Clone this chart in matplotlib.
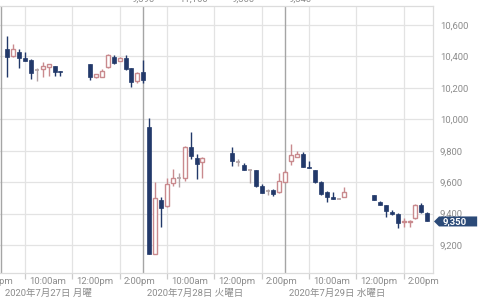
import matplotlib
matplotlib.use("Agg")
import matplotlib.pyplot as plt
import matplotlib.transforms as mtransforms
from matplotlib.patches import Polygon

plt.rcParams['font.family'] = ['Roboto', 'Noto Sans CJK JP', 'DejaVu Sans']

# 15-minute candles, three trading days (9:00-15:00)
slot_times = ["9:15", "9:30", "9:45", "10:00", "10:15", "10:30", "10:45", "11:00", "11:15", "11:30",
              "12:45", "13:00", "13:15", "13:30", "13:45", "14:00", "14:15", "14:30", "14:45", "15:00"]
day_labels = ["2020年7月27日 月曜", "2020年7月28日 火曜日", "2020年7月29日 水曜日"]

opens_d1 = [10445, 10405, 10426, 10388, 10377, 10310, 10318, 10335, 10339, 10309,
            10350, 10267, 10271, 10331, 10399, 10373, 10392, 10324, 10244, 10303]
highs_d1 = [10530, 10477, 10445, 10426, 10382, 10324, 10366, 10352, 10341, 10309,
            10352, 10290, 10320, 10416, 10409, 10395, 10407, 10328, 10303, 10377]
lows_d1 = [10271, 10399, 10328, 10371, 10256, 10244, 10271, 10277, 10277, 10277,
           10250, 10262, 10268, 10328, 10350, 10371, 10313, 10208, 10233, 10229]
closes_d1 = [10394, 10447, 10388, 10373, 10296, 10313, 10341, 10350, 10299, 10299,
             10271, 10286, 10307, 10409, 10356, 10392, 10318, 10239, 10293, 10250]

opens_d2 = [9949, 9143, 9486, 9448, 9593, 9624, 9624, 9825, 9755, 9730,
            9787, 9727, 9709, 9677, 9677, 9575, 9543, 9550, 9537, 9603]
highs_d2 = [10006, 9603, 9507, 9624, 9682, 9656, 9830, 9921, 9777, 9757,
            9825, 9746, 9724, 9683, 9680, 9586, 9555, 9555, 9658, 9680]
lows_d2 = [9140, 9140, 9317, 9444, 9576, 9571, 9609, 9745, 9618, 9624,
           9703, 9703, 9677, 9593, 9570, 9528, 9519, 9514, 9533, 9598]
closes_d2 = [9143, 9497, 9434, 9588, 9624, 9627, 9825, 9766, 9716, 9755,
             9736, 9729, 9677, 9680, 9575, 9533, 9546, 9525, 9610, 9667]

opens_d3 = [9737, 9762, 9779, 9698, 9677, 9603, 9535, 9504, 9497, 9508,
            9518, 9475, 9455, 9411, 9395, 9344, 9344, 9370, 9455, 9405]
highs_d3 = [9843, 9800, 9794, 9737, 9680, 9606, 9546, 9539, 9499, 9571,
            9520, 9477, 9457, 9422, 9405, 9370, 9360, 9462, 9466, 9411]
lows_d3 = [9709, 9758, 9694, 9688, 9593, 9520, 9476, 9490, 9490, 9505,
           9484, 9453, 9376, 9390, 9306, 9317, 9317, 9365, 9405, 9350]
closes_d3 = [9773, 9777, 9694, 9688, 9603, 9524, 9504, 9493, 9493, 9535,
             9486, 9455, 9418, 9397, 9341, 9353, 9353, 9455, 9409, 9350]

last_price = 9350
y_ticks = [9200, 9400, 9600, 9800, 10000, 10200, 10400, 10600]
header_texts = ["9,390", "11,160", "9,300", "9,340"]

UP = '#c98a8e'
DOWN = '#22396a'
DOJI = '#b3a3a5'
LABEL = '#8c8c8c'


def to_x(day, t):
    h, m = t.split(':')
    return day * 6 + int(h) + int(m) / 60 - 9


fig = plt.figure(figsize=(4.8, 3.01), dpi=100)
ax = fig.add_axes([0, 1 - 273 / 301, 433 / 480, 267 / 301])
ax.set_xlim(-0.055, 18.24)
ax.set_ylim(9022, 10721)

days = [(opens_d1, highs_d1, lows_d1, closes_d1),
        (opens_d2, highs_d2, lows_d2, closes_d2),
        (opens_d3, highs_d3, lows_d3, closes_d3)]
w = 0.17
for d, (op, hi, lo, cl) in enumerate(days):
    for t, o, h, l, c in zip(slot_times, op, hi, lo, cl):
        x = to_x(d, t)
        if abs(c - o) < 5:
            ax.vlines(x, l, h, color=DOJI, lw=1, zorder=3)
            ax.hlines((o + c) / 2, x - w / 2, x + w / 2, color=DOJI, lw=1.2, zorder=4)
        elif c > o:
            ax.vlines(x, l, h, color=UP, lw=1, zorder=3)
            ax.bar(x, c - o, bottom=o, width=w, facecolor='white', edgecolor=UP, lw=1, zorder=4)
        else:
            ax.vlines(x, l, h, color=DOWN, lw=1, zorder=3)
            ax.bar(x, o - c, bottom=c, width=w, facecolor=DOWN, edgecolor=DOWN, lw=0.5, zorder=4)

# grid
for y in y_ticks:
    ax.axhline(y, color='#e3e3e3', lw=0.9, zorder=0)
tick_x = []
for d in range(3):
    for hh in (10, 12, 14):
        tick_x.append(to_x(d, f"{hh}:00"))
for x in tick_x:
    ax.axvline(x, color='#e3e3e3', lw=0.9, zorder=0)
for d in range(3):
    ax.axvline(d * 6, color='#a5a5a5', lw=1, zorder=1)

ax.spines['left'].set_visible(False)
for s in ['top', 'right', 'bottom']:
    ax.spines[s].set_color('#dcdcdc')
    ax.spines[s].set_linewidth(0.9)

ax.set_xticks(tick_x)
ax.set_xticklabels([])
ax.tick_params(axis='x', length=4, color='#cccccc', width=0.9)

ax.yaxis.tick_right()
ax.set_yticks(y_ticks)
ax.set_yticklabels([f"{v:,}" for v in y_ticks])
ax.tick_params(axis='y', length=0, pad=5, labelsize=6.8, labelcolor=LABEL)

tr = ax.get_xaxis_transform()
off = 4 / 23.67
names = {10: "10:00am", 12: "12:00pm", 14: "2:00pm"}
for d in range(-1, 3):
    for hh in (10, 12, 14):
        x = to_x(d, f"{hh}:00")
        if x < -2:
            continue
        ax.text(x + off, -0.033, names[hh], transform=tr, ha='left', va='center',
                fontsize=6.8, color=LABEL, clip_on=False)
for d, lab in enumerate(day_labels):
    ax.text(d * 6 + off, -0.077, lab, transform=tr, ha='left', va='center',
            fontsize=6.8, color=LABEL, clip_on=False)

# last price tag, drawn over the 9,400 label as in the source
bt = mtransforms.blended_transform_factory(ax.transAxes, ax.transData)
hpx = 5 * (10721 - 9022) / 267
tag = Polygon([[1.0023, last_price], [1.0139, last_price + hpx], [1.102, last_price + hpx],
               [1.102, last_price - hpx], [1.0139, last_price - hpx]],
              closed=True, transform=bt, facecolor='#2b4a78', edgecolor='none', clip_on=False, zorder=10)
ax.add_patch(tag)
ax.text(1.022, last_price, f"{last_price:,}", transform=bt, ha='left', va='center',
        fontsize=6.8, color='white', fontweight='bold', clip_on=False, zorder=11)

# header row, mostly outside the picture
for hx, ht in zip([143, 194, 243, 300], header_texts):
    fig.text(hx / 480, 1 - 1.8 / 301, ht, ha='center', va='baseline', fontsize=6.8, color=LABEL)

fig.savefig('out.png', dpi=100, facecolor='white')
